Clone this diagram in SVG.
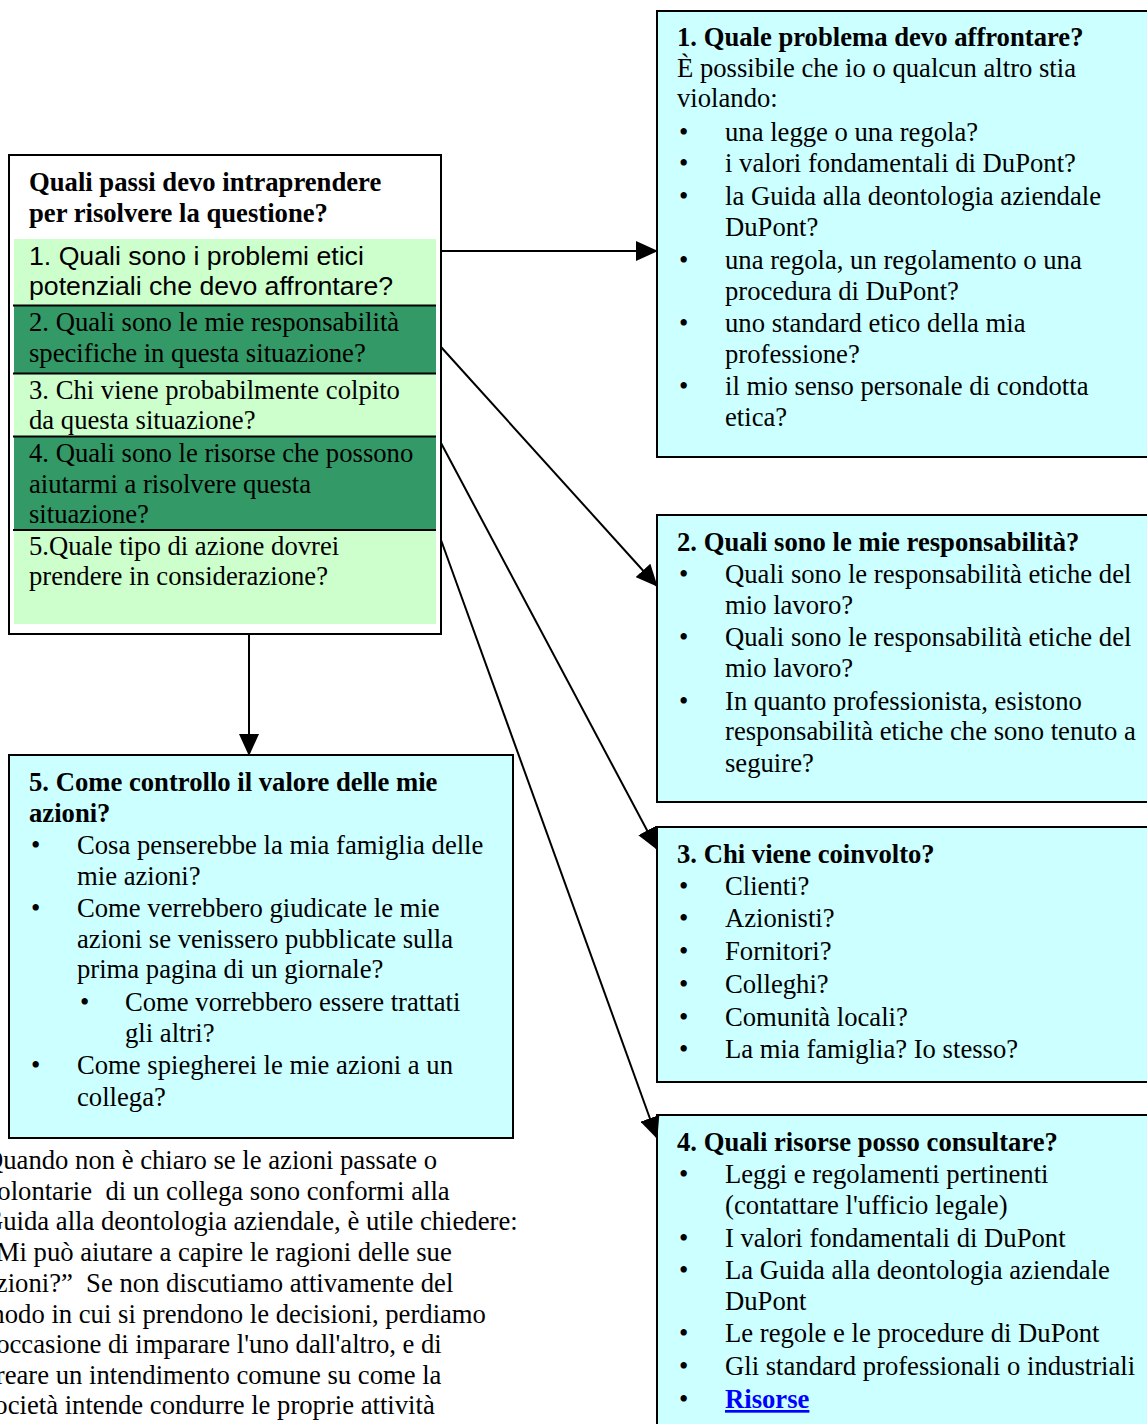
<svg xmlns="http://www.w3.org/2000/svg" width="1147" height="1424" viewBox="0 0 1147 1424">
<style>
.t{font-family:"Liberation Serif","Times New Roman",serif;font-size:26.67px;fill:#000;white-space:pre}
.b{font-weight:bold}
.s{font-family:"Liberation Sans",Arial,sans-serif;font-size:26.67px;fill:#000}
.box{fill:#CCFFFF;stroke:#000;stroke-width:2}
.sep{stroke:#000;stroke-width:2}
.con{stroke:#000;stroke-width:2;fill:none;marker-end:url(#ah)}
.link{fill:#0000FF;font-weight:bold;text-decoration:underline}
</style>
<defs>
<marker id="ah" markerUnits="userSpaceOnUse" markerWidth="22" markerHeight="20" viewBox="0 0 22 20" refX="21" refY="10" orient="auto">
<path d="M0,0 L22,10 L0,20 Z" fill="#000"/>
</marker>
</defs>
<rect width="1147" height="1424" fill="#fff"/>

<g id="steps">
<rect x="9" y="155" width="432" height="479" fill="#fff" stroke="#000" stroke-width="2"/>
<rect x="14" y="239" width="422" height="385" fill="#CCFFCC"/>
<rect x="14" y="306" width="422" height="67" fill="#339966"/>
<rect x="14" y="437" width="422" height="93" fill="#339966"/>
<line class="sep" x1="13" y1="305.5" x2="436" y2="305.5"/>
<line class="sep" x1="13" y1="373.5" x2="436" y2="373.5"/>
<line class="sep" x1="13" y1="436.5" x2="436" y2="436.5"/>
<line class="sep" x1="13" y1="530" x2="436" y2="530"/>
<text class="t b" x="29" y="191">Quali passi devo intraprendere</text>
<text class="t b" x="29" y="222">per risolvere la questione?</text>
<text class="s" x="29" y="265">1. Quali sono i problemi etici</text>
<text class="s" x="29" y="295">potenziali che devo affrontare?</text>
<text class="t" x="29" y="331">2. Quali sono le mie responsabilità</text>
<text class="t" x="29" y="362">specifiche in questa situazione?</text>
<text class="t" x="29" y="399">3. Chi viene probabilmente colpito</text>
<text class="t" x="29" y="429">da questa situazione?</text>
<text class="t" x="29" y="462">4. Quali sono le risorse che possono</text>
<text class="t" x="29" y="493">aiutarmi a risolvere questa</text>
<text class="t" x="29" y="523">situazione?</text>
<text class="t" x="29" y="555">5.Quale tipo di azione dovrei</text>
<text class="t" x="29" y="585">prendere in considerazione?</text>
</g>

<g id="box1">
<rect class="box" x="657" y="11" width="500" height="446"/>
<text class="t b" x="677" y="46">1. Quale problema devo affrontare?</text>
<text class="t" x="677" y="77">È possibile che io o qualcun altro stia</text>
<text class="t" x="677" y="107">violando:</text>
<text class="t" x="679" y="141">•</text><text class="t" x="725" y="141">una legge o una regola?</text>
<text class="t" x="679" y="172">•</text><text class="t" x="725" y="172">i valori fondamentali di DuPont?</text>
<text class="t" x="679" y="205">•</text><text class="t" x="725" y="205">la Guida alla deontologia aziendale</text>
<text class="t" x="725" y="236">DuPont?</text>
<text class="t" x="679" y="269">•</text><text class="t" x="725" y="269">una regola, un regolamento o una</text>
<text class="t" x="725" y="300">procedura di DuPont?</text>
<text class="t" x="679" y="332">•</text><text class="t" x="725" y="332">uno standard etico della mia</text>
<text class="t" x="725" y="363">professione?</text>
<text class="t" x="679" y="395">•</text><text class="t" x="725" y="395">il mio senso personale di condotta</text>
<text class="t" x="725" y="426">etica?</text>
</g>

<g id="box2">
<rect class="box" x="657" y="515" width="500" height="287"/>
<text class="t b" x="677" y="551">2. Quali sono le mie responsabilità?</text>
<text class="t" x="679" y="583">•</text><text class="t" x="725" y="583">Quali sono le responsabilità etiche del</text>
<text class="t" x="725" y="614">mio lavoro?</text>
<text class="t" x="679" y="646">•</text><text class="t" x="725" y="646">Quali sono le responsabilità etiche del</text>
<text class="t" x="725" y="677">mio lavoro?</text>
<text class="t" x="679" y="710">•</text><text class="t" x="725" y="710">In quanto professionista, esistono</text>
<text class="t" x="725" y="740">responsabilità etiche che sono tenuto a</text>
<text class="t" x="725" y="772">seguire?</text>
</g>

<g id="box3">
<rect class="box" x="657" y="827" width="500" height="255"/>
<text class="t b" x="677" y="863">3. Chi viene coinvolto?</text>
<text class="t" x="679" y="895">•</text><text class="t" x="725" y="895">Clienti?</text>
<text class="t" x="679" y="927">•</text><text class="t" x="725" y="927">Azionisti?</text>
<text class="t" x="679" y="960">•</text><text class="t" x="725" y="960">Fornitori?</text>
<text class="t" x="679" y="993">•</text><text class="t" x="725" y="993">Colleghi?</text>
<text class="t" x="679" y="1026">•</text><text class="t" x="725" y="1026">Comunità locali?</text>
<text class="t" x="679" y="1058">•</text><text class="t" x="725" y="1058">La mia famiglia? Io stesso?</text>
</g>

<g id="box4">
<rect class="box" x="657" y="1115" width="500" height="320"/>
<text class="t b" x="677" y="1151">4. Quali risorse posso consultare?</text>
<text class="t" x="679" y="1183">•</text><text class="t" x="725" y="1183">Leggi e regolamenti pertinenti</text>
<text class="t" x="725" y="1214">(contattare l'ufficio legale)</text>
<text class="t" x="679" y="1247">•</text><text class="t" x="725" y="1247">I valori fondamentali di DuPont</text>
<text class="t" x="679" y="1279">•</text><text class="t" x="725" y="1279">La Guida alla deontologia aziendale</text>
<text class="t" x="725" y="1310">DuPont</text>
<text class="t" x="679" y="1342">•</text><text class="t" x="725" y="1342">Le regole e le procedure di DuPont</text>
<text class="t" x="679" y="1375">•</text><text class="t" x="725" y="1375">Gli standard professionali o industriali</text>
<text class="t" x="679" y="1408">•</text><text class="t link" x="725" y="1408">Risorse</text>
</g>

<g id="box5">
<rect class="box" x="9" y="755" width="504" height="383"/>
<text class="t b" x="29" y="791">5. Come controllo il valore delle mie</text>
<text class="t b" x="29" y="822">azioni?</text>
<text class="t" x="31" y="854">•</text><text class="t" x="77" y="854">Cosa penserebbe la mia famiglia delle</text>
<text class="t" x="77" y="885">mie azioni?</text>
<text class="t" x="31" y="917">•</text><text class="t" x="77" y="917">Come verrebbero giudicate le mie</text>
<text class="t" x="77" y="948">azioni se venissero pubblicate sulla</text>
<text class="t" x="77" y="978">prima pagina di un giornale?</text>
<text class="t" x="80" y="1011">•</text><text class="t" x="125" y="1011">Come vorrebbero essere trattati</text>
<text class="t" x="125" y="1042">gli altri?</text>
<text class="t" x="31" y="1074">•</text><text class="t" x="77" y="1074">Come spiegherei le mie azioni a un</text>
<text class="t" x="77" y="1106">collega?</text>
</g>

<g id="note">
<text class="t" x="-16" y="1169">Quando non è chiaro se le azioni passate o</text>
<text class="t" x="-16" y="1200">volontarie  di un collega sono conformi alla</text>
<text class="t" x="-16" y="1230">Guida alla deontologia aziendale, è utile chiedere:</text>
<text class="t" x="-16" y="1261">“Mi può aiutare a capire le ragioni delle sue</text>
<text class="t" x="-16" y="1292">azioni?”  Se non discutiamo attivamente del</text>
<text class="t" x="-16" y="1323">modo in cui si prendono le decisioni, perdiamo</text>
<text class="t" x="-16" y="1353">l'occasione di imparare l'uno dall'altro, e di</text>
<text class="t" x="-16" y="1384">creare un intendimento comune su come la</text>
<text class="t" x="-16" y="1414">società intende condurre le proprie attività</text>
</g>

<g id="connectors">
<line class="con" x1="441" y1="251" x2="657" y2="251"/>
<line class="con" x1="441" y1="347" x2="657" y2="586"/>
<line class="con" x1="441" y1="443" x2="657" y2="849"/>
<line class="con" x1="441" y1="540" x2="657" y2="1138"/>
<line class="con" x1="249" y1="634" x2="249" y2="755"/>
</g>
</svg>
